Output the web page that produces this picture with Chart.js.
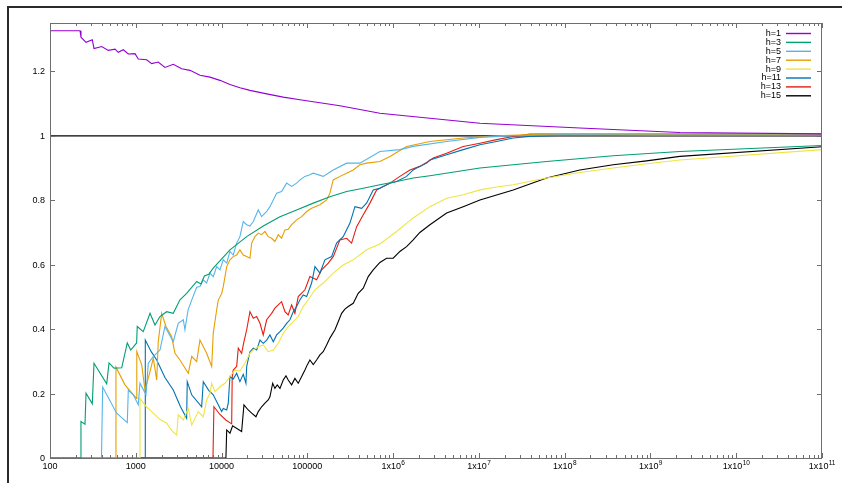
<!DOCTYPE html>
<html>
<head>
<meta charset="utf-8">
<script src="https://cdn.jsdelivr.net/npm/chart.js@4/dist/chart.umd.min.js"></script>
<style>
  html, body { margin: 0; padding: 0; background: #fff; }
  #wrap { width: 842px; height: 483px; position: relative; }
</style>
</head>
<body>
<div id="wrap"><canvas id="ratioChart" width="842" height="483"></canvas></div>
<script>
// x positions are given as log10(N), values as ratio

const seriesLabels = ["h=1", "h=3", "h=5", "h=7", "h=9", "h=11", "h=13", "h=15"];
const seriesColors = ["#9400d3", "#009e73", "#56b4e9", "#e69f00", "#f0e442", "#0072b2", "#e51e10", "#000000"];

const yTicks = [0, 0.2, 0.4, 0.6, 0.8, 1, 1.2];
const yTickLabels = ["0", "0.2", "0.4", "0.6", "0.8", "1", "1.2"];
const xDecades = [2, 3, 4, 5, 6, 7, 8, 9, 10, 11];

const h1Exp = [2, 2.35, 2.361, 2.42, 2.493, 2.513, 2.603, 2.68, 2.758, 2.796, 2.854, 2.913, 2.991, 3.029, 3.127, 3.185, 3.262, 3.34, 3.437, 3.535, 3.632, 3.748, 3.865, 3.981, 4.098, 4.214, 4.331, 4.526, 4.719, 4.914, 5.38, 5.846, 7.012, 8.177, 9.343, 11];
const h1Val = [1.326, 1.326, 1.306, 1.29, 1.298, 1.271, 1.277, 1.265, 1.269, 1.259, 1.267, 1.254, 1.255, 1.238, 1.236, 1.224, 1.229, 1.212, 1.222, 1.208, 1.203, 1.188, 1.182, 1.172, 1.159, 1.149, 1.141, 1.13, 1.12, 1.112, 1.093, 1.07, 1.039, 1.024, 1.01, 1.006];

const h3Exp = [2, 2.35, 2.361, 2.408, 2.42, 2.493, 2.513, 2.661, 2.688, 2.746, 2.836, 2.901, 2.941, 3.01, 3.017, 3.087, 3.166, 3.224, 3.282, 3.36, 3.437, 3.515, 3.593, 3.71, 3.76, 3.8, 3.85, 3.903, 4.098, 4.293, 4.486, 4.681, 4.875, 5.069, 5.263, 5.458, 5.652, 5.846, 6.041, 6.234, 6.429, 7.012, 7.789, 8.565, 9.343, 11];
const h3Val = [0, 0, 0.113, 0.105, 0.201, 0.168, 0.294, 0.23, 0.295, 0.279, 0.28, 0.357, 0.335, 0.357, 0.408, 0.392, 0.449, 0.413, 0.439, 0.454, 0.449, 0.491, 0.511, 0.548, 0.54, 0.565, 0.57, 0.589, 0.646, 0.687, 0.72, 0.749, 0.77, 0.791, 0.811, 0.827, 0.837, 0.848, 0.858, 0.869, 0.876, 0.9, 0.92, 0.938, 0.951, 0.97];

const h5Exp = [2, 2.6, 2.614, 2.777, 2.901, 2.913, 2.971, 3.029, 3.049, 3.119, 3.146, 3.204, 3.282, 3.34, 3.437, 3.495, 3.554, 3.573, 3.61, 3.652, 3.71, 3.748, 3.787, 3.826, 3.865, 3.903, 3.943, 3.981, 4.02, 4.06, 4.098, 4.136, 4.176, 4.214, 4.253, 4.293, 4.331, 4.37, 4.428, 4.467, 4.526, 4.564, 4.603, 4.642, 4.7, 4.759, 4.817, 4.875, 4.914, 4.972, 5.03, 5.069, 5.185, 5.302, 5.458, 5.613, 5.846, 6.079, 6.234, 6.624, 7.012, 7.4, 8, 9, 11];
const h5Val = [0, 0, 0.22, 0.139, 0.11, 0.211, 0.196, 0.165, 0.232, 0.196, 0.294, 0.315, 0.335, 0.408, 0.361, 0.418, 0.429, 0.398, 0.46, 0.49, 0.53, 0.532, 0.553, 0.543, 0.574, 0.563, 0.594, 0.584, 0.615, 0.605, 0.641, 0.63, 0.667, 0.687, 0.734, 0.724, 0.72, 0.734, 0.77, 0.749, 0.765, 0.78, 0.801, 0.822, 0.827, 0.853, 0.843, 0.853, 0.863, 0.874, 0.879, 0.884, 0.874, 0.894, 0.915, 0.915, 0.951, 0.957, 0.967, 0.982, 0.995, 1.0, 1.003, 1.002, 1.002];

const h7Exp = [2, 2.766, 2.769, 2.874, 3.008, 3.012, 3.069, 3.107, 3.166, 3.204, 3.244, 3.262, 3.302, 3.352, 3.418, 3.457, 3.515, 3.612, 3.652, 3.71, 3.748, 3.826, 3.885, 3.903, 3.943, 3.962, 4.001, 4.02, 4.06, 4.098, 4.136, 4.176, 4.214, 4.253, 4.293, 4.331, 4.351, 4.389, 4.428, 4.467, 4.506, 4.544, 4.584, 4.622, 4.661, 4.7, 4.739, 4.777, 4.817, 4.875, 4.934, 4.992, 5.05, 5.147, 5.225, 5.263, 5.302, 5.38, 5.458, 5.535, 5.613, 5.691, 5.846, 5.963, 6.157, 6.429, 6.817, 7.206, 7.789, 9, 11];
const h7Val = [0, 0, 0.282, 0.227, 0.185, 0.33, 0.289, 0.211, 0.268, 0.31, 0.242, 0.361, 0.449, 0.408, 0.377, 0.325, 0.304, 0.263, 0.315, 0.299, 0.366, 0.325, 0.284, 0.387, 0.46, 0.49, 0.51, 0.532, 0.594, 0.615, 0.625, 0.63, 0.646, 0.63, 0.625, 0.62, 0.667, 0.687, 0.698, 0.693, 0.703, 0.687, 0.682, 0.672, 0.693, 0.682, 0.708, 0.71, 0.724, 0.739, 0.749, 0.765, 0.775, 0.786, 0.801, 0.822, 0.863, 0.874, 0.884, 0.894, 0.91, 0.915, 0.92, 0.936, 0.967, 0.982, 0.993, 1.0, 1.005, 1.004, 1.004];

const h9Exp = [2, 3.041, 3.049, 3.12, 3.204, 3.28, 3.36, 3.42, 3.477, 3.495, 3.554, 3.612, 3.652, 3.728, 3.787, 3.826, 3.865, 3.885, 3.923, 3.981, 4.04, 4.098, 4.156, 4.214, 4.273, 4.331, 4.37, 4.428, 4.486, 4.544, 4.603, 4.661, 4.719, 4.777, 4.836, 4.894, 4.952, 5.01, 5.089, 5.185, 5.302, 5.418, 5.535, 5.691, 5.846, 6.041, 6.234, 6.429, 6.624, 6.817, 7.012, 7.206, 7.4, 7.789, 8.177, 8.565, 8.955, 9.343, 11];
const h9Val = [0, 0, 0.185, 0.16, 0.139, 0.12, 0.108, 0.085, 0.071, 0.134, 0.118, 0.154, 0.102, 0.144, 0.128, 0.18, 0.201, 0.232, 0.206, 0.221, 0.232, 0.253, 0.273, 0.27, 0.294, 0.325, 0.335, 0.346, 0.351, 0.33, 0.335, 0.356, 0.387, 0.408, 0.423, 0.439, 0.47, 0.491, 0.522, 0.543, 0.574, 0.599, 0.615, 0.646, 0.664, 0.703, 0.745, 0.78, 0.806, 0.817, 0.832, 0.841, 0.848, 0.869, 0.886, 0.9, 0.913, 0.925, 0.957];

const h11Exp = [2, 3.108, 3.111, 3.18, 3.244, 3.34, 3.437, 3.52, 3.593, 3.6, 3.652, 3.768, 3.787, 3.85, 3.903, 4.001, 4.02, 4.06, 4.078, 4.098, 4.136, 4.176, 4.214, 4.253, 4.284, 4.293, 4.331, 4.37, 4.409, 4.448, 4.486, 4.526, 4.564, 4.603, 4.642, 4.681, 4.719, 4.759, 4.797, 4.836, 4.875, 4.914, 4.952, 4.992, 5.05, 5.089, 5.147, 5.205, 5.283, 5.341, 5.418, 5.497, 5.555, 5.633, 5.691, 5.768, 5.846, 5.963, 6.041, 6.157, 6.234, 6.274, 6.391, 6.429, 6.624, 6.817, 7.012, 7.206, 7.4, 7.594, 8, 9, 11];
const h11Val = [0, 0, 0.366, 0.33, 0.304, 0.25, 0.211, 0.16, 0.123, 0.237, 0.196, 0.159, 0.237, 0.21, 0.196, 0.144, 0.154, 0.149, 0.17, 0.253, 0.245, 0.263, 0.237, 0.26, 0.232, 0.284, 0.33, 0.341, 0.335, 0.366, 0.356, 0.366, 0.382, 0.361, 0.382, 0.392, 0.403, 0.418, 0.429, 0.454, 0.47, 0.491, 0.506, 0.501, 0.543, 0.594, 0.574, 0.615, 0.625, 0.667, 0.687, 0.729, 0.78, 0.775, 0.791, 0.832, 0.837, 0.853, 0.858, 0.874, 0.894, 0.9, 0.915, 0.925, 0.941, 0.957, 0.972, 0.982, 0.993, 0.998, 1.002, 1.003, 1.003];

const h13Exp = [2, 3.9, 3.911, 3.981, 4.05, 4.118, 4.124, 4.136, 4.176, 4.195, 4.234, 4.261, 4.293, 4.331, 4.37, 4.409, 4.448, 4.486, 4.526, 4.584, 4.622, 4.661, 4.7, 4.739, 4.777, 4.817, 4.855, 4.894, 4.972, 5.03, 5.108, 5.167, 5.244, 5.302, 5.38, 5.458, 5.516, 5.575, 5.652, 5.73, 5.808, 5.885, 5.963, 6.079, 6.196, 6.312, 6.409, 6.468, 6.624, 6.817, 7.012, 7.206, 7.4, 7.594, 9, 11];
const h13Val = [0, 0, 0.159, 0.135, 0.118, 0.106, 0.25, 0.273, 0.284, 0.341, 0.325, 0.361, 0.398, 0.454, 0.434, 0.439, 0.418, 0.382, 0.429, 0.449, 0.465, 0.475, 0.485, 0.454, 0.444, 0.475, 0.449, 0.501, 0.522, 0.563, 0.553, 0.584, 0.605, 0.625, 0.677, 0.682, 0.667, 0.718, 0.755, 0.791, 0.832, 0.843, 0.853, 0.874, 0.894, 0.905, 0.92, 0.931, 0.946, 0.967, 0.977, 0.988, 0.998, 1.005, 1.005, 1.005];

const h15Exp = [2, 4.051, 4.06, 4.098, 4.129, 4.234, 4.261, 4.311, 4.351, 4.401, 4.428, 4.467, 4.506, 4.544, 4.564, 4.596, 4.622, 4.649, 4.681, 4.719, 4.751, 4.777, 4.817, 4.855, 4.894, 4.934, 4.972, 4.999, 5.03, 5.069, 5.108, 5.147, 5.185, 5.225, 5.263, 5.322, 5.36, 5.4, 5.438, 5.477, 5.535, 5.593, 5.652, 5.71, 5.768, 5.846, 5.924, 6.001, 6.079, 6.157, 6.234, 6.312, 6.429, 6.624, 6.817, 7.012, 7.4, 7.789, 8.177, 8.565, 8.955, 9.343, 11];
const h15Val = [0, 0, 0.087, 0.077, 0.1, 0.082, 0.165, 0.149, 0.139, 0.128, 0.144, 0.159, 0.17, 0.18, 0.19, 0.232, 0.216, 0.227, 0.216, 0.242, 0.255, 0.242, 0.227, 0.247, 0.232, 0.253, 0.273, 0.289, 0.304, 0.29, 0.304, 0.32, 0.33, 0.351, 0.372, 0.398, 0.423, 0.449, 0.462, 0.47, 0.48, 0.511, 0.527, 0.563, 0.584, 0.607, 0.62, 0.62, 0.641, 0.656, 0.677, 0.7, 0.724, 0.76, 0.78, 0.801, 0.832, 0.869, 0.894, 0.91, 0.922, 0.936, 0.966];

const allExp = [h1Exp, h3Exp, h5Exp, h7Exp, h9Exp, h11Exp, h13Exp, h15Exp];
const allVal = [h1Val, h3Val, h5Val, h7Val, h9Val, h11Val, h13Val, h15Val];

function toPoints(exps, vals) {
    if (exps.length !== vals.length) console.log("length mismatch", exps.length, vals.length);
    return exps.map((e, i) => ({ x: Math.pow(10, e), y: vals[i] }));
}

const datasets = seriesLabels.map((label, i) => ({
    label: label,
    data: toPoints(allExp[i], allVal[i]),
    borderColor: seriesColors[i],
    borderWidth: 1.1,
    pointRadius: 0,
    tension: 0,
    fill: false
}));

// reference line at 1
datasets.push({
    label: "one",
    data: [{ x: 100, y: 1 }, { x: 1e11, y: 1 }],
    borderColor: "#000",
    borderWidth: 1.3,
    pointRadius: 0,
    fill: false
});

const FONT = '9px "Liberation Sans", Arial, sans-serif';
const SUP_FONT = '6.5px "Liberation Sans", Arial, sans-serif';

const gnuplotAxes = {
    id: "gnuplotAxes",
    beforeDraw(chart) {
        const ctx = chart.ctx;
        ctx.save();
        ctx.fillStyle = "#fff";
        ctx.fillRect(0, 0, chart.width, chart.height);
        // outer frame (top and left only are visible)
        ctx.strokeStyle = "#2a2a2a";
        ctx.lineWidth = 2;
        ctx.beginPath();
        ctx.moveTo(8, 483);
        ctx.lineTo(8, 7);
        ctx.lineTo(842, 7);
        ctx.stroke();
        ctx.restore();
    },
    afterDraw(chart) {
        const ctx = chart.ctx;
        const a = chart.chartArea;
        const xs = chart.scales.x;
        const ys = chart.scales.y;
        ctx.save();

        // plot border
        ctx.strokeStyle = "#6e6e6e";
        ctx.lineWidth = 1;
        ctx.strokeRect(a.left + 0.5, a.top + 0.5, a.right - a.left - 1, a.bottom - a.top);

        ctx.fillStyle = "#000";
        ctx.font = FONT;

        // y ticks, mirrored on the right
        ctx.textAlign = "right";
        ctx.textBaseline = "middle";
        yTicks.forEach((v, i) => {
            const py = Math.round(ys.getPixelForValue(v)) + 0.5;
            ctx.beginPath();
            ctx.moveTo(a.left, py); ctx.lineTo(a.left + 5, py);
            ctx.moveTo(a.right, py); ctx.lineTo(a.right - 5, py);
            ctx.stroke();
            ctx.fillText(yTickLabels[i], a.left - 5, py);
        });

        // x ticks, major and minor, mirrored on top
        xDecades.forEach((d) => {
            for (let m = 1; m <= 9; m++) {
                const val = m * Math.pow(10, d);
                if (val > 1e11) break;
                const px = Math.round(xs.getPixelForValue(val)) + 0.5;
                const len = m === 1 ? 5 : 3;
                ctx.beginPath();
                ctx.moveTo(px, a.bottom); ctx.lineTo(px, a.bottom - len);
                ctx.moveTo(px, a.top); ctx.lineTo(px, a.top + len);
                ctx.stroke();
            }
        });

        // x labels
        ctx.textBaseline = "middle";
        ctx.textAlign = "left";
        xDecades.forEach((d) => {
            const px = xs.getPixelForValue(Math.pow(10, d));
            const ly = a.bottom + 9;
            if (d <= 5) {
                const txt = String(Math.pow(10, d));
                ctx.font = FONT;
                const w = ctx.measureText(txt).width;
                ctx.fillText(txt, px - w / 2, ly);
            } else {
                const base = "1x10";
                const sup = String(d);
                ctx.font = FONT;
                const wb = ctx.measureText(base).width;
                ctx.font = SUP_FONT;
                const ws = ctx.measureText(sup).width;
                const x0 = px - (wb + ws) / 2;
                ctx.font = FONT;
                ctx.fillText(base, x0, ly);
                ctx.font = SUP_FONT;
                ctx.fillText(sup, x0 + wb + 0.3, ly - 4);
            }
        });

        // key
        ctx.font = FONT;
        ctx.textAlign = "right";
        ctx.textBaseline = "middle";
        seriesLabels.forEach((label, i) => {
            const ky = 33.5 + i * 8.9;
            ctx.fillStyle = "#000";
            ctx.fillText(label, 781, ky);
            ctx.strokeStyle = seriesColors[i];
            ctx.lineWidth = 1.4;
            ctx.beginPath();
            ctx.moveTo(786, ky); ctx.lineTo(811, ky);
            ctx.stroke();
        });

        ctx.restore();
    }
};

new Chart(document.getElementById("ratioChart"), {
    type: "line",
    data: { datasets: datasets },
    options: {
        responsive: false,
        animation: false,
        devicePixelRatio: 1,
        layout: { padding: { left: 50, right: 20, top: 23, bottom: 25 } },
        plugins: {
            legend: { display: false },
            tooltip: { enabled: false }
        },
        scales: {
            x: { type: "logarithmic", min: 100, max: 1e11, display: false },
            y: { type: "linear", min: 0, max: 1.35, display: false }
        }
    },
    plugins: [gnuplotAxes]
});
</script>
</body>
</html>
